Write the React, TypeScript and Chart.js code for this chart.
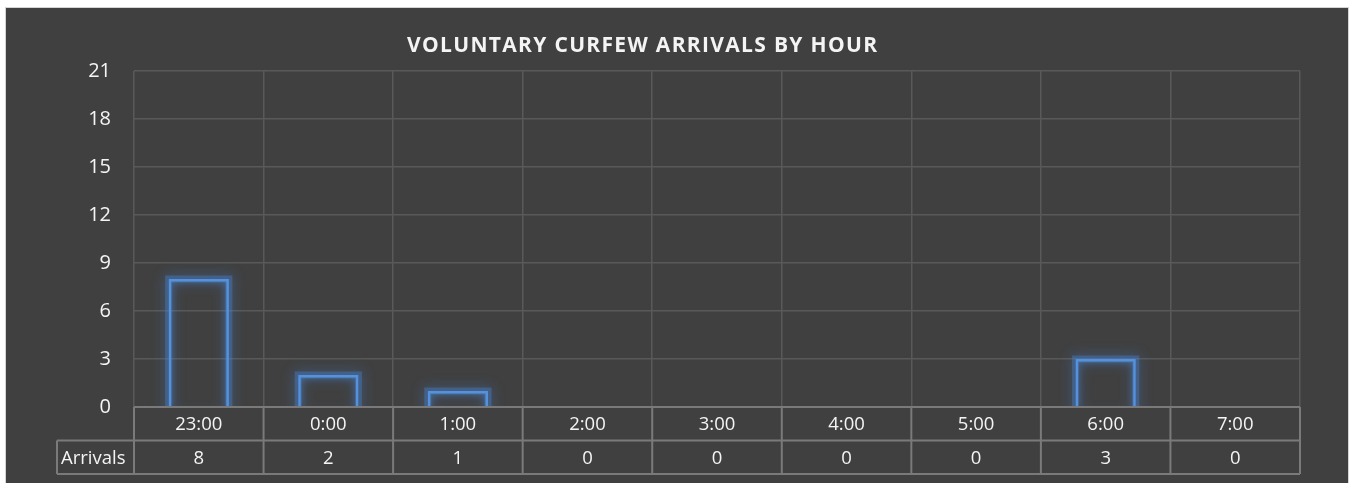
import React, { useEffect, useRef } from "react";
import { Chart, registerables } from "chart.js";

Chart.register(...registerables);

const hours = ["23:00", "0:00", "1:00", "2:00", "3:00", "4:00", "5:00", "6:00", "7:00"];
const arrivals = [8, 2, 1, 0, 0, 0, 0, 3, 0];
const seriesName = "Arrivals";
const chartTitle = "VOLUNTARY CURFEW ARRIVALS BY HOUR";

const W = 1352;
const H = 483;
const BG = "#404040";
const TEXT = "#f4f4f4";
const GRID = "#595959";
const TABLE_LINE = "#7a7a7a";
const BAR = "#5592dc";
const FONT = "'Open Sans', 'Noto Sans', sans-serif";

// Frame, dark panel and title
const backgroundPlugin = {
  id: "panel",
  beforeDraw(chart: any) {
    const ctx = chart.ctx;
    ctx.save();
    ctx.fillStyle = "#ffffff";
    ctx.fillRect(0, 0, W, H);
    ctx.fillStyle = BG;
    ctx.fillRect(6, 8, 1342, H - 8);
    ctx.strokeStyle = "#d4d4d4";
    ctx.lineWidth = 1;
    ctx.strokeRect(5.5, 7.5, 1343, H);
    ctx.restore();
  },
  afterDraw(chart: any) {
    const ctx = chart.ctx;
    ctx.save();
    ctx.font = `bold 21px ${FONT}`;
    const targetWidth = 470;
    const natural = ctx.measureText(chartTitle).width;
    const spacing = Math.max(0, (targetWidth - natural) / (chartTitle.length - 1));
    (ctx as any).letterSpacing = `${spacing}px`;
    ctx.fillStyle = TEXT;
    ctx.textBaseline = "alphabetic";
    ctx.textAlign = "left";
    ctx.fillText(chartTitle, 642 - targetWidth / 2, 52);
    ctx.restore();
  },
};

// Soft blue glow behind the bar outlines
const glowPlugin = {
  id: "glow",
  beforeDatasetsDraw(chart: any) {
    const ctx = chart.ctx;
    const area = chart.chartArea;
    const meta = chart.getDatasetMeta(0);
    ctx.save();
    ctx.beginPath();
    ctx.rect(area.left - 20, area.top - 20, area.right - area.left + 40, area.bottom - area.top + 20);
    ctx.clip();
    ctx.shadowColor = "rgba(70, 135, 220, 0.95)";
    ctx.shadowBlur = 13;
    ctx.strokeStyle = "rgba(70, 130, 210, 0.4)";
    ctx.lineWidth = 7;
    meta.data.forEach((bar: any) => {
      const h = bar.base - bar.y;
      if (h <= 0) return;
      const x0 = bar.x - bar.width / 2;
      ctx.strokeRect(x0, bar.y, bar.width, h + 12);
    });
    ctx.restore();
    ctx.save();
    ctx.shadowColor = "rgba(80, 140, 220, 0.8)";
    ctx.shadowBlur = 6;
  },
  afterDatasetsDraw(chart: any) {
    chart.ctx.restore();
  },
};

// Data table under the plot area
const dataTablePlugin = {
  id: "dataTable",
  afterDraw(chart: any) {
    const ctx = chart.ctx;
    const area = chart.chartArea;
    const n = hours.length;
    const left = area.left;
    const right = area.right;
    const colW = (right - left) / n;
    const top = area.bottom;
    const rowH = 33.5;
    const mid = top + rowH;
    const bottom = top + rowH * 2;
    const headLeft = 57;

    ctx.save();
    ctx.fillStyle = BG;
    ctx.fillRect(left, top + 1, right - left, rowH - 1);
    ctx.strokeStyle = TABLE_LINE;
    ctx.lineWidth = 2;
    ctx.beginPath();
    ctx.moveTo(left, top);
    ctx.lineTo(right, top);
    ctx.moveTo(headLeft, mid);
    ctx.lineTo(right, mid);
    ctx.moveTo(headLeft, bottom);
    ctx.lineTo(right, bottom);
    ctx.moveTo(headLeft, mid);
    ctx.lineTo(headLeft, bottom);
    for (let i = 0; i <= n; i++) {
      const x = left + i * colW;
      ctx.moveTo(x, top);
      ctx.lineTo(x, bottom);
    }
    ctx.stroke();

    ctx.fillStyle = TEXT;
    ctx.font = `18.5px ${FONT}`;
    ctx.textBaseline = "middle";
    ctx.textAlign = "center";
    for (let i = 0; i < n; i++) {
      const cx = left + (i + 0.5) * colW;
      ctx.fillText(hours[i], cx, top + rowH / 2 + 1);
      ctx.fillText(String(arrivals[i]), cx, mid + rowH / 2 + 1);
    }
    ctx.textAlign = "left";
    ctx.fillText(seriesName, headLeft + 4, mid + rowH / 2 + 1);
    ctx.restore();
  },
};

export default function App() {
  const canvasRef = useRef<HTMLCanvasElement | null>(null);

  useEffect(() => {
    if (!canvasRef.current) return;
    const chart = new Chart(canvasRef.current, {
      type: "bar",
      data: {
        labels: hours,
        datasets: [
          {
            label: seriesName,
            data: arrivals,
            backgroundColor: "rgba(0,0,0,0)",
            borderColor: BAR,
            borderWidth: 2.5,
            borderSkipped: "start",
            categoryPercentage: 1,
            barPercentage: 0.465,
          },
        ],
      },
      options: {
        responsive: false,
        animation: false,
        devicePixelRatio: 1,
        layout: { padding: { top: 71, right: 52, bottom: 76, left: 0 } },
        plugins: {
          legend: { display: false },
          title: { display: false },
          tooltip: { enabled: false },
        },
        scales: {
          x: {
            afterFit(scale: any) {
              scale.height = 0;
            },
            ticks: { display: false },
            border: { display: false },
            grid: { offset: true, color: GRID, lineWidth: 1.5, drawTicks: false },
          },
          y: {
            min: 0,
            max: 21,
            afterFit(scale: any) {
              scale.width = 134;
            },
            ticks: {
              stepSize: 3,
              color: TEXT,
              padding: 23,
              font: { family: FONT, size: 20 },
            },
            border: { display: false },
            grid: { color: GRID, lineWidth: 1.5, drawTicks: false },
          },
        },
      },
      plugins: [backgroundPlugin, glowPlugin, dataTablePlugin],
    });
    return () => chart.destroy();
  }, []);

  return (
    <div style={{ position: "fixed", left: 0, top: 0, width: W, height: H }}>
      <canvas ref={canvasRef} width={W} height={H} style={{ display: "block" }} />
    </div>
  );
}
